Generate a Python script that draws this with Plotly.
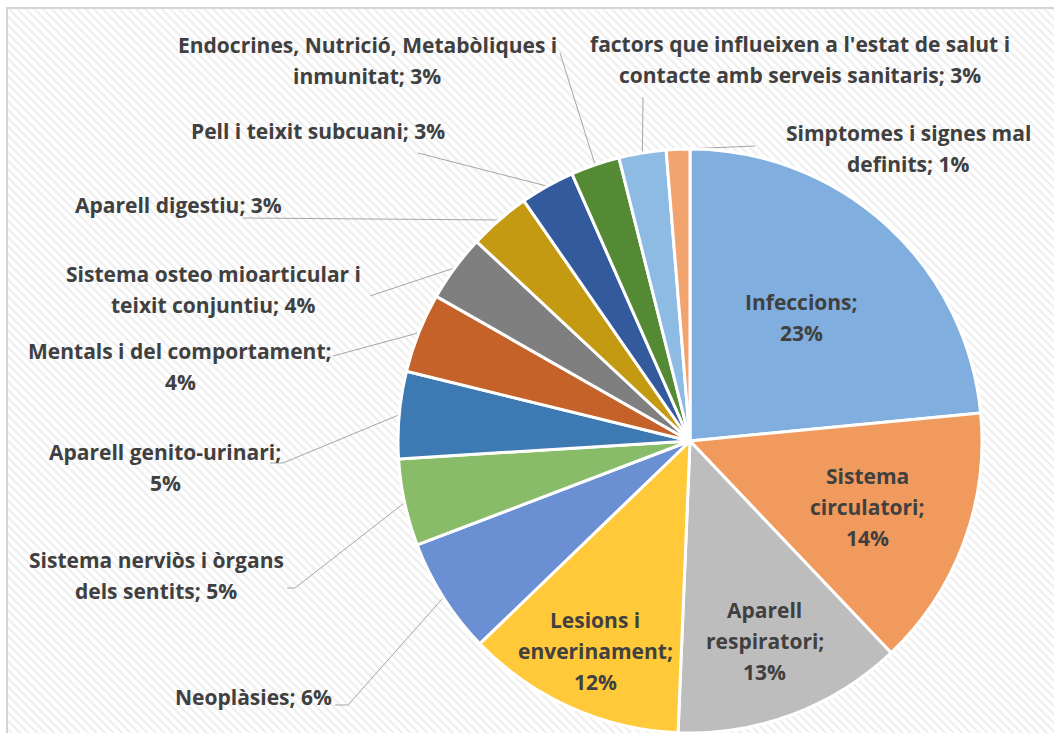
import math
import plotly.graph_objects as go

# ---------------- data ----------------
categories = [
    "Infeccions", "Sistema circulatori", "Aparell respiratori", "Lesions i enverinament",
    "Neoplàsies", "Sistema nerviòs i òrgans dels sentits", "Aparell genito-urinari",
    "Mentals i del comportament", "Sistema osteo mioarticular i teixit conjuntiu",
    "Aparell digestiu", "Pell i teixit subcuani",
    "Endocrines, Nutrició, Metabòliques i inmunitat",
    "factors que influeixen a l'estat de salut i contacte amb serveis sanitaris",
    "Simptomes i signes mal definits",
]
values = [23.4, 14.4, 12.7, 12.1, 6.4, 4.8, 4.8, 4.4, 3.7, 3.4, 3.0, 2.7, 2.6, 1.3]

# label wrapping as displayed (text layout)
label_templates = [
    "Infeccions;\n{p}", "Sistema\ncirculatori;\n{p}", "Aparell\nrespiratori;\n{p}",
    "Lesions i\nenverinament;\n{p}", "Neoplàsies; {p}",
    "Sistema nerviòs i òrgans\ndels sentits; {p}", "Aparell genito-urinari;\n{p}",
    "Mentals i del comportament;\n{p}", "Sistema osteo mioarticular i\nteixit conjuntiu; {p}",
    "Aparell digestiu; {p}", "Pell i teixit subcuani; {p}",
    "Endocrines, Nutrició, Metabòliques i\ninmunitat; {p}",
    "factors que influeixen a l'estat de salut i\ncontacte amb serveis sanitaris; {p}",
    "Simptomes i signes mal\ndefinits; {p}",
]

colors = ["#80AEDF", "#F09A5E", "#BDBDBD", "#FFC93A", "#6A8FD3", "#88BC68", "#3D79B2",
          "#C4622A", "#7F7F7F", "#C39A12", "#345A9E", "#558A35", "#8DBBE3", "#F2A46E"]

# ---------------- layout geometry (pixels) ----------------
W, H = 1054, 733
CX, CY, R = 690, 441, 292

# inside labels: radius fraction; outside labels: text centre, leader polyline start
inside_rfrac = {0: 0.57, 1: 0.65, 2: 0.73, 3: 0.79}
outside_pos = {
    4: (253, 697), 5: (156, 575), 6: (165, 467), 7: (180, 366), 8: (213, 289),
    9: (178, 205), 10: (318, 131), 11: (367, 60), 12: (800, 59), 13: (908, 148),
}
leader_start = {
    4: [(335, 705), (348, 705)], 5: [(287, 588), (295, 588)], 6: [(270, 463), (283, 463)],
    7: [(333, 356)], 8: [(370, 296)], 9: [(243, 218)], 10: [(418, 153)],
    11: [(560, 53)], 12: [(643, 97)], 13: [(755, 146)],
}
LINE_H = 31

total = sum(values)
pcts = [v / total * 100 for v in values]

fig = go.Figure()

# hatched chart-area background
fig.add_trace(go.Scatter(
    x=[7, W, W, 7, 7], y=[8, 8, H, H, 8], mode="lines", fill="toself",
    line=dict(width=0), fillcolor="white",
    fillpattern=dict(shape="\\", fgcolor="#dcdcdc", bgcolor="white", size=6, solidity=0.35),
    hoverinfo="skip", showlegend=False))
fig.add_trace(go.Scatter(
    x=[7, 7, W], y=[H, 8, 8], mode="lines", line=dict(color="#d4d4d4", width=2),
    hoverinfo="skip", showlegend=False))

# leader lines from label to slice edge (mid-angle)
cum = 0
mids = []
for p in pcts:
    mids.append((cum + p / 2) / 100 * 2 * math.pi)
    cum += p
for i, pts in leader_start.items():
    a = mids[i]
    ex, ey = CX + R * math.sin(a), CY - R * math.cos(a)
    xs = [q[0] for q in pts] + [ex]
    ys = [q[1] for q in pts] + [ey]
    fig.add_trace(go.Scatter(x=xs, y=ys, mode="lines", line=dict(color="#a6a6a6", width=1),
                             hoverinfo="skip", showlegend=False))

fig.add_trace(go.Pie(
    labels=categories, values=values, sort=False, direction="clockwise", rotation=0,
    marker=dict(colors=colors, line=dict(color="white", width=3)),
    textinfo="none", hoverinfo="label+percent", showlegend=False,
    domain=dict(x=[(CX - R) / W, (CX + R) / W], y=[0, 2 * R / H]),
))

annotations = []
font = dict(family="Open Sans", size=21, color="#404040", weight="bold")
for i, tpl in enumerate(label_templates):
    text = tpl.format(p=f"{pcts[i]:.0f}%")
    lines = text.split("\n")
    if i in inside_rfrac:
        a = mids[i]
        rr = R * inside_rfrac[i]
        tx, ty = CX + rr * math.sin(a), CY - rr * math.cos(a)
    else:
        tx, ty = outside_pos[i]
    n = len(lines)
    for k, ln in enumerate(lines):
        annotations.append(dict(
            x=tx, y=ty + (k - (n - 1) / 2) * LINE_H, xref="x", yref="y", text=ln,
            showarrow=False, font=font, xanchor="center", yanchor="middle"))

fig.update_layout(
    width=W, height=H, margin=dict(l=0, r=0, t=0, b=0),
    paper_bgcolor="white", plot_bgcolor="white",
    xaxis=dict(range=[0, W], visible=False, fixedrange=True),
    yaxis=dict(range=[H, 0], visible=False, fixedrange=True),
    annotations=annotations,
)

fig.write_html("out.html", config={"displayModeBar": False},
               post_script="document.body.style.margin='0';document.body.style.overflow='hidden';")
